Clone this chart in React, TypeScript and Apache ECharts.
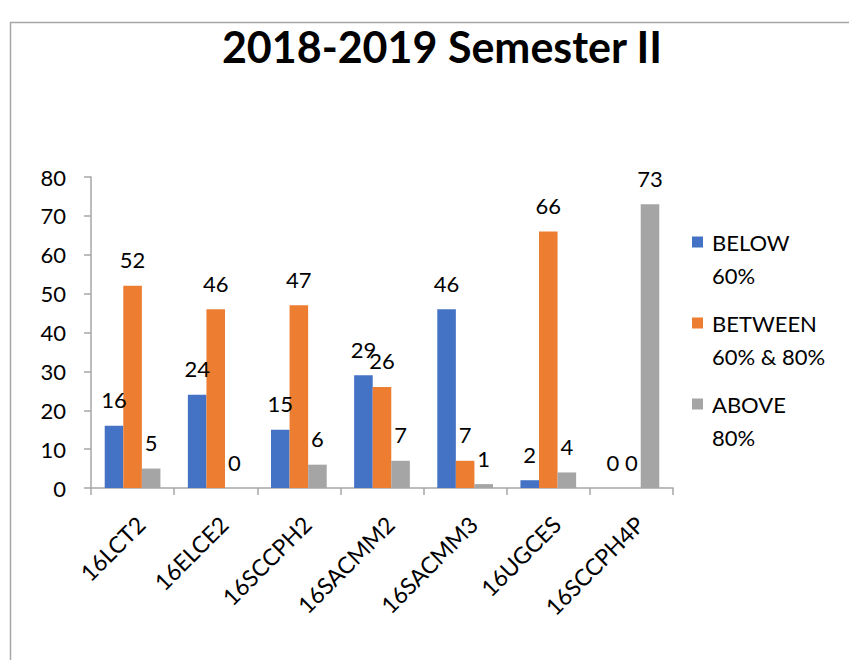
import React, { useEffect, useRef } from "react";
import * as echarts from "echarts";

const categories = ["16LCT2", "16ELCE2", "16SCCPH2", "16SACMM2", "16SACMM3", "16UGCES", "16SCCPH4P"];
const seriesNames = ["BELOW 60%", "BETWEEN 60% & 80%", "ABOVE 80%"];
const legendLabels = ["BELOW\n60%", "BETWEEN\n60% & 80%", "ABOVE\n80%"];
const below = [16, 24, 15, 29, 46, 2, 0];
const between = [52, 46, 47, 26, 7, 66, 0];
const above = [5, 0, 6, 7, 1, 4, 73];
const colors = ["#4472C4", "#ED7D31", "#A5A5A5"];
const titleText = "2018-2019 Semester II";

const FONT = "Lato, 'Open Sans', sans-serif";

export default function App() {
  const ref = useRef<HTMLDivElement>(null);
  useEffect(() => {
    if (!ref.current) return;
    const chart = echarts.init(ref.current, undefined, { renderer: "svg" });
    const values = [below, between, above];
    const labelMap: Record<string, string> = {};
    seriesNames.forEach((n, i) => (labelMap[n] = legendLabels[i]));
    chart.setOption({
      animation: false,
      backgroundColor: "#ffffff",
      title: {
        text: titleText,
        left: 437,
        top: 20,
        textAlign: "center",
        textStyle: { fontFamily: FONT, fontWeight: "bold", fontSize: 43, color: "#000000" },
      },
      graphic: [
        {
          type: "rect",
          left: 8,
          top: 20,
          shape: { width: 900, height: 700 },
          style: { fill: "none", stroke: "#a6a6a6", lineWidth: 1.5 },
          silent: true,
        },
      ],
      legend: {
        orient: "vertical",
        left: 692,
        top: 225.5,
        padding: 0,
        itemGap: 15,
        itemWidth: 11,
        itemHeight: 44,
        icon: "path://M0,0H11V11H0Z M0,44L0,44Z",
        data: seriesNames,
        formatter: (name: string) => labelMap[name] || name,
        textStyle: {
          fontFamily: FONT,
          fontSize: 22,
          lineHeight: 33,
          color: "#000000",
          padding: [0, 0, 0, 4],
        },
      },
      grid: { left: 91, right: 176, top: 177, bottom: 172, containLabel: false },
      xAxis: {
        type: "category",
        data: categories,
        axisLine: { lineStyle: { color: "#a6a6a6", width: 1.5 } },
        axisTick: { show: true, length: 7, lineStyle: { color: "#a6a6a6", width: 1.5 } },
        axisLabel: {
          rotate: 45,
          margin: 24,
          verticalAlign: "top",
          fontFamily: FONT,
          fontSize: 23,
          color: "#000000",
        },
      },
      yAxis: {
        type: "value",
        min: 0,
        max: 80,
        interval: 10,
        splitLine: { show: false },
        axisLine: { show: true, lineStyle: { color: "#a6a6a6", width: 1.5 } },
        axisTick: { show: true, length: 7, lineStyle: { color: "#a6a6a6", width: 1.5 } },
        axisLabel: { margin: 25, fontFamily: FONT, fontSize: 22, color: "#000000" },
      },
      series: seriesNames.map((name, i) => ({
        name,
        type: "bar",
        data: values[i],
        barGap: "0%",
        barCategoryGap: "33%",
        itemStyle: { color: colors[i] },
        label: {
          show: true,
          position: "top",
          distance: 15,
          fontFamily: FONT,
          fontSize: 22,
          color: "#000000",
        },
      })),
    });
    return () => chart.dispose();
  }, []);
  return (
    <div
      ref={ref}
      style={{ position: "absolute", left: 0, top: 0, width: 849, height: 660, background: "#fff" }}
    />
  );
}
